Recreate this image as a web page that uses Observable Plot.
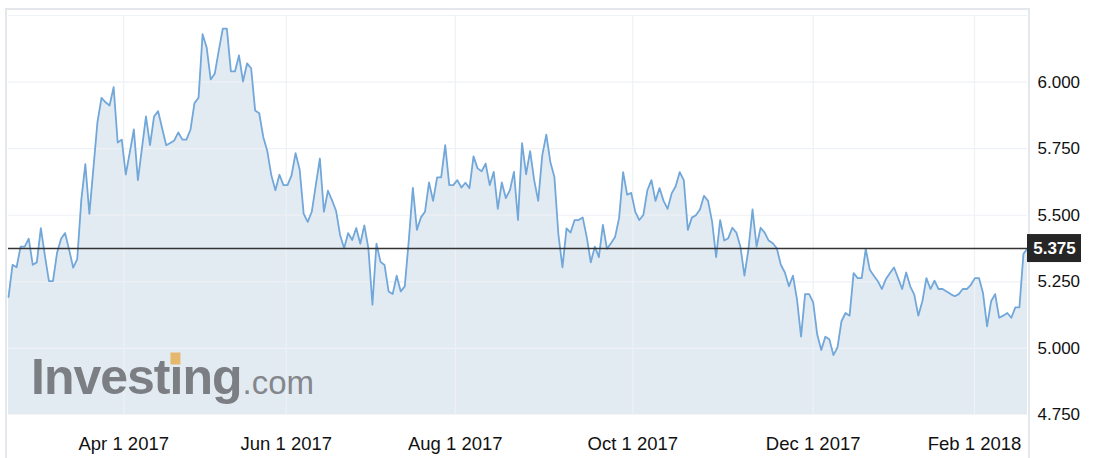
<!DOCTYPE html>
<html>
<head>
<meta charset="utf-8">
<script src="https://cdn.jsdelivr.net/npm/d3@7"></script>
<script src="https://cdn.jsdelivr.net/npm/@observablehq/plot@0.6"></script>
<style>
  html, body { margin: 0; padding: 0; background: #ffffff; }
  #wrap { position: relative; width: 1097px; height: 458px; overflow: hidden;
          font-family: "Liberation Sans", Arial, Helvetica, sans-serif; }
  #border { position: absolute; left: 5px; top: 8px; width: 1021px; height: 470px;
            border: 2px solid #e4e8ec; border-bottom: none; }
  #chart { position: absolute; left: 0; top: 0; }
  #chart svg { overflow: visible; }
</style>
</head>
<body>
<div id="wrap">
  <div id="border"></div>
  <div id="chart"></div>
</div>
<script>
// ---- data ----
const values = [
  5.193, 5.314, 5.305, 5.382, 5.382, 5.412, 5.314, 5.323, 5.452, 5.348,
  5.253, 5.253, 5.358, 5.412, 5.433, 5.370, 5.303, 5.335, 5.557, 5.692,
  5.505, 5.677, 5.850, 5.941, 5.924, 5.912, 5.981, 5.773, 5.784, 5.653,
  5.736, 5.822, 5.632, 5.751, 5.871, 5.763, 5.871, 5.891, 5.826, 5.763,
  5.771, 5.781, 5.811, 5.784, 5.784, 5.821, 5.921, 5.941, 6.180, 6.130,
  6.010, 6.031, 6.118, 6.201, 6.201, 6.040, 6.040, 6.100, 6.002, 6.070,
  6.052, 5.893, 5.883, 5.794, 5.741, 5.650, 5.594, 5.652, 5.613, 5.613,
  5.650, 5.733, 5.672, 5.505, 5.475, 5.513, 5.613, 5.713, 5.513, 5.592,
  5.557, 5.517, 5.426, 5.376, 5.433, 5.407, 5.452, 5.393, 5.462, 5.376,
  5.164, 5.393, 5.325, 5.313, 5.214, 5.204, 5.273, 5.214, 5.233, 5.407,
  5.603, 5.445, 5.492, 5.513, 5.623, 5.554, 5.642, 5.642, 5.763, 5.613,
  5.613, 5.632, 5.604, 5.622, 5.602, 5.721, 5.676, 5.665, 5.694, 5.613,
  5.663, 5.524, 5.623, 5.564, 5.594, 5.663, 5.482, 5.771, 5.654, 5.741,
  5.632, 5.554, 5.725, 5.803, 5.700, 5.644, 5.426, 5.304, 5.451, 5.435,
  5.482, 5.482, 5.492, 5.418, 5.323, 5.382, 5.343, 5.464, 5.374, 5.395,
  5.418, 5.489, 5.662, 5.577, 5.584, 5.513, 5.482, 5.501, 5.594, 5.632,
  5.554, 5.602, 5.554, 5.524, 5.582, 5.609, 5.662, 5.632, 5.445, 5.491,
  5.500, 5.522, 5.573, 5.554, 5.476, 5.343, 5.482, 5.405, 5.414, 5.453,
  5.435, 5.382, 5.273, 5.373, 5.522, 5.382, 5.453, 5.435, 5.405, 5.395,
  5.376, 5.314, 5.285, 5.233, 5.273, 5.183, 5.044, 5.204, 5.204, 5.173,
  5.052, 4.994, 5.044, 5.034, 4.975, 5.003, 5.102, 5.133, 5.123, 5.283,
  5.264, 5.264, 5.374, 5.295, 5.273, 5.252, 5.223, 5.261, 5.283, 5.304,
  5.264, 5.223, 5.285, 5.233, 5.202, 5.123, 5.177, 5.264, 5.223, 5.254,
  5.223, 5.223, 5.214, 5.204, 5.196, 5.204, 5.223, 5.223, 5.239, 5.264,
  5.264, 5.208, 5.083, 5.177, 5.204, 5.115, 5.123, 5.133, 5.115, 5.154,
  5.154, 5.355, 5.375
];
const currentValue = 5.375;
// trading-day position of each month label
const xTickPos = [28.5, 68.7, 110.5, 154.4, 199.0, 238.9];
const xTickLabels = ["Apr 1 2017", "Jun 1 2017", "Aug 1 2017", "Oct 1 2017", "Dec 1 2017", "Feb 1 2018"];
const yTicks = [4.75, 5.0, 5.25, 5.5, 5.75, 6.0];
const yGridValues = [5.0, 5.25, 5.5, 5.75, 6.0, 6.25];
const yDomain = [4.75, 6.25];

const data = values.map((v, i) => ({ i, v }));
const FONT = '"Liberation Sans", Arial, Helvetica, sans-serif';

const plot = Plot.plot({
  width: 1097,
  height: 458,
  marginLeft: 8,
  marginRight: 70,
  marginTop: 15,
  marginBottom: 43.5,
  style: { background: "transparent", fontFamily: FONT, color: "#111" },
  x: { type: "linear", domain: [0, values.length - 1], label: null },
  y: { domain: yDomain, label: null },
  marks: [
    Plot.areaY(data, { x: "i", y1: yDomain[0], y2: "v", fill: "#e3ebf2" }),
    Plot.gridY(yGridValues, { stroke: "#eef1f5", strokeOpacity: 1, strokeWidth: 1.2 }),
    Plot.gridX(xTickPos, { stroke: "#eef1f5", strokeOpacity: 1, strokeWidth: 1.2 }),
    Plot.lineY(data, { x: "i", y: "v", stroke: "#72a7da", strokeWidth: 1.8 }),
    Plot.ruleY([currentValue], { stroke: "#333333", strokeWidth: 1.6 }),
    Plot.axisX(xTickPos, {
      tickSize: 0, tickPadding: 21.5, label: null, fontSize: 18.5, fill: "#111",
      tickFormat: d => xTickLabels[xTickPos.indexOf(d)]
    }),
    Plot.axisY(yTicks, {
      anchor: "right", tickSize: 0, tickPadding: 10, label: null, fontSize: 17, fill: "#111",
      tickFormat: d3.format(".3f")
    })
  ]
});

document.getElementById("chart").appendChild(plot);

// ---- current value label and watermark ----
const svg = d3.select(plot);
const ySc = plot.scale("y");
const xSc = plot.scale("x");
const yOf = ySc.apply ? (v => ySc.apply(v)) : d3.scaleLinear(ySc.domain, ySc.range);
const xOf = xSc.apply ? (v => xSc.apply(v)) : d3.scaleLinear(xSc.domain, xSc.range);
const yc = yOf(currentValue);
const xr = xOf(values.length - 1);

const logo = svg.append("g").attr("font-family", FONT).attr("text-anchor", "start");
const inv = logo.append("text")
  .attr("x", 31).attr("y", 394)
  .attr("text-anchor", "start")
  .attr("font-size", 50).attr("font-weight", "bold")
  .attr("letter-spacing", "-1px")
  .attr("fill", "#7b7e83")
  .text("Investing");
let endX = 241;
try {
  const bb = inv.node().getBBox();
  endX = bb.x + bb.width;
  const ext = inv.node().getExtentOfChar(6);
  logo.append("rect")
    .attr("x", ext.x + ext.width / 2 - 5.5).attr("y", 352.5)
    .attr("width", 10).attr("height", 12)
    .attr("fill", "#e6b86e");
} catch (e) {}
logo.append("text")
  .attr("x", endX + 1).attr("y", 394)
  .attr("text-anchor", "start")
  .attr("font-size", 33)
  .attr("fill", "#84878b")
  .text(".com");

const tag = svg.append("g");
tag.append("rect")
  .attr("x", xr).attr("y", yc - 14)
  .attr("width", 54).attr("height", 28)
  .attr("fill", "#262626");
tag.append("text")
  .attr("x", xr + 27.5).attr("y", yc).attr("dy", "0.35em")
  .attr("text-anchor", "middle")
  .attr("font-family", FONT).attr("font-size", 17).attr("font-weight", "bold")
  .attr("fill", "#ffffff")
  .text(d3.format(".3f")(currentValue));
</script>
</body>
</html>
